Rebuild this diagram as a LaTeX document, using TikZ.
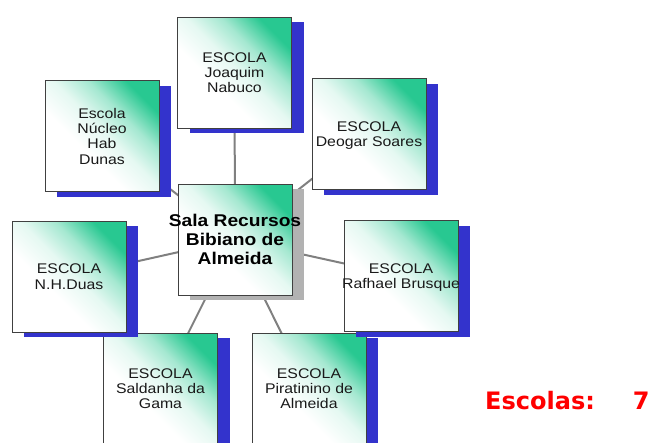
\documentclass[tikz,border=0pt]{standalone}
\usepackage{fontspec}
\setmainfont{Liberation Sans}[FakeStretch=1.13]
\newfontfamily\countfont{DejaVu Sans}
\definecolor{mint}{RGB}{40,200,145}
\definecolor{shadowblue}{RGB}{51,51,204}
\definecolor{shadowgray}{RGB}{178,178,178}
\definecolor{linkgray}{RGB}{128,128,128}
\definecolor{countred}{RGB}{255,0,0}
\pgfdeclarehorizontalshading{boxshade}{100bp}{color(0bp)=(white); color(25bp)=(white); color(40bp)=(white); color(52bp)=(mint!12!white); color(63bp)=(mint!42!white); color(75bp)=(mint); color(100bp)=(mint)}
\pgfdeclarelayer{back}
\pgfsetlayers{back,main}
\tikzset{
  school/.style={draw=black!75, line width=0.8pt, shading=boxshade, shading angle=45,
    minimum width=114pt, minimum height=111pt, inner sep=0pt,
    font=\fontsize{14}{15.3}\selectfont, text=black!90},
  hub/.style={school, font=\bfseries\fontsize{17}{19.3}\selectfont, text=black},
  link/.style={draw=linkgray, line width=2pt},
  counter/.style={text=countred, font=\countfont\bfseries\fontsize{24}{26}\selectfont, inner sep=0pt, anchor=base west}
}
\newcommand\schoolbox[6]{%
  \fill[#6] ({#2-57+12},{#3-55.5+5}) rectangle ({#2+57+12},{#3+55.5+5});
  \node[#5] (#1) at (#2,#3) {\raisebox{-2pt}[\height][\depth]{\makebox[0pt][c]{\begin{tabular}{@{}c@{}}#4\end{tabular}}}};
}
\begin{document}
\begin{tikzpicture}[x=1pt,y=-1pt]
\useasboundingbox (0,0) rectangle (653,442);
\schoolbox{j}{234.5}{72.5}{ESCOLA\\Joaquim\\Nabuco}{school}{shadowblue}
\schoolbox{n}{102}{136}{Escola\\Núcleo\\Hab\\Dunas}{school}{shadowblue}
\schoolbox{d}{369}{134}{ESCOLA\\Deogar Soares}{school}{shadowblue}
\schoolbox{c}{235}{239.5}{Sala Recursos\\Bibiano de\\Almeida}{hub}{shadowgray}
\schoolbox{s}{160.5}{388.5}{ESCOLA\\Saldanha da\\Gama}{school}{shadowblue}
\schoolbox{p}{309}{388.5}{ESCOLA\\Piratinino de\\Almeida}{school}{shadowblue}
\schoolbox{h}{69}{276.5}{ESCOLA\\N.H.Duas}{school}{shadowblue}
\schoolbox{r}{401}{276}{ESCOLA\\Rafhael Brusque}{school}{shadowblue}
\begin{pgfonlayer}{back}
  \foreach \t in {j,n,d,h,r,s,p} \draw[link] (c.center) -- (\t.center);
\end{pgfonlayer}
\node[counter] (cnt) at (485,409) {Escolas:\hspace{38pt}7};
\end{tikzpicture}
\end{document}
